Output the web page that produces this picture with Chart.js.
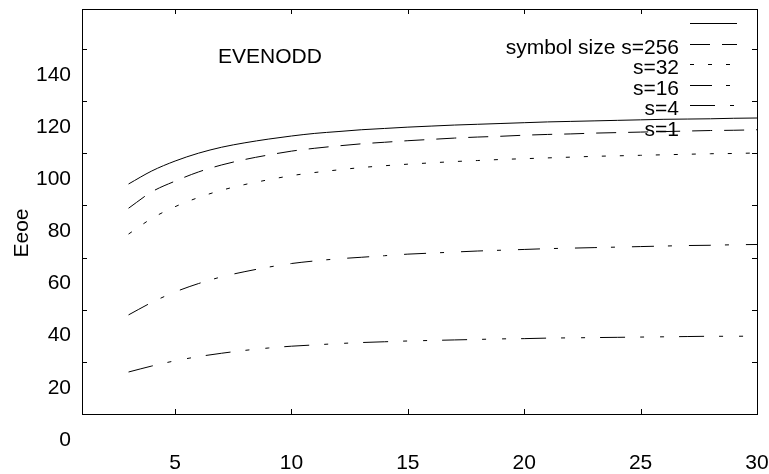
<!DOCTYPE html>
<html>
<head>
<meta charset="utf-8">
<script src="https://cdn.jsdelivr.net/npm/chart.js@4.4.1/dist/chart.umd.min.js"></script>
<style>
  html, body { margin: 0; padding: 0; background: #fff; }
  #wrap { width: 769px; height: 474px; }
</style>
</head>
<body>
<div id="wrap"><canvas id="c" width="769" height="474"></canvas></div>
<script>
// x values (3..30)
const xs = [3,4,5,6,7,8,9,10,11,12,13,14,15,16,17,18,19,20,21,22,23,24,25,26,27,28,29,30];

const s256 = [98.2,103.2,107.0,110.0,112.3,114.0,115.4,116.6,117.6,118.3,119.0,119.5,120.0,120.4,120.8,121.1,121.4,121.7,122.0,122.2,122.4,122.6,122.8,123.0,123.1,123.2,123.4,123.5];
const s32  = [88.9,95.2,99.3,102.8,105.5,107.6,109.3,110.8,111.9,112.8,113.6,114.2,114.8,115.3,115.8,116.2,116.5,116.9,117.2,117.4,117.7,117.9,118.1,118.3,118.5,118.7,118.8,119.0];
const s16  = [79.0,85.0,89.5,93.0,95.8,98.0,99.8,101.4,102.6,103.6,104.5,105.2,105.8,106.3,106.8,107.2,107.6,107.9,108.2,108.5,108.8,109.0,109.2,109.4,109.6,109.8,109.9,110.1];
const s4   = [48.0,52.8,56.8,60.0,62.6,64.6,66.3,67.7,68.7,69.5,70.1,70.7,71.3,71.7,72.1,72.5,72.8,73.1,73.4,73.6,73.8,74.0,74.2,74.4,74.6,74.7,74.9,75.0];
const s1   = [26.1,28.4,30.4,32.0,33.3,34.4,35.3,36.0,36.5,37.0,37.4,37.7,38.0,38.2,38.4,38.6,38.8,38.9,39.1,39.2,39.3,39.4,39.5,39.6,39.7,39.8,39.8,39.9];

const seriesLabels = ['symbol size s=256', 's=32', 's=16', 's=4', 's=1'];
const xTicks = [5, 10, 15, 20, 25, 30];
// tick marks sit 10 units above where their labels are printed
const yTicks = [10, 30, 50, 70, 90, 110, 130, 150];

const FONT = "'Liberation Sans', Arial, sans-serif";

const mk = (label, data, dash) => ({
    label: label,
    data: xs.map((x, i) => ({ x: x, y: data[i] })),
    borderColor: '#000',
    borderWidth: 1,
    borderDash: dash,
    pointRadius: 0,
    fill: false,
    cubicInterpolationMode: 'monotone'
});

// frame, inward ticks, title texts and legend
const decor = {
    id: 'decor',
    afterDatasetsDraw(chart) {
        const { ctx, chartArea: a, scales } = chart;
        ctx.save();
        ctx.strokeStyle = '#000';
        ctx.lineWidth = 1;
        ctx.setLineDash([]);
        ctx.strokeRect(a.left + 0.5, a.top + 0.5, a.right - a.left, a.bottom - a.top);
        ctx.beginPath();
        scales.x.ticks.forEach(t => {
            const px = Math.round(scales.x.getPixelForValue(t.value)) + 0.5;
            ctx.moveTo(px, a.bottom); ctx.lineTo(px, a.bottom - 5);
            ctx.moveTo(px, a.top); ctx.lineTo(px, a.top + 5);
        });
        scales.y.ticks.forEach(t => {
            const py = Math.round(scales.y.getPixelForValue(t.value)) + 0.5;
            ctx.moveTo(a.left, py); ctx.lineTo(a.left + 5, py);
            ctx.moveTo(a.right, py); ctx.lineTo(a.right - 5, py);
        });
        ctx.stroke();

        ctx.fillStyle = '#000';
        ctx.font = '21px ' + FONT;
        ctx.textBaseline = 'middle';
        ctx.textAlign = 'left';
        ctx.fillText('EVENODD', 218, 57);

        ctx.save();
        ctx.translate(22, 233);
        ctx.rotate(-Math.PI / 2);
        ctx.textAlign = 'center';
        ctx.fillText('Eeoe', 0, 0);
        ctx.restore();

        chart.data.datasets.forEach((ds, i) => {
            const y = 23 + i * 20.5;
            ctx.setLineDash(ds.borderDash || []);
            ctx.beginPath();
            ctx.moveTo(690, Math.round(y) + 0.5);
            ctx.lineTo(737, Math.round(y) + 0.5);
            ctx.stroke();
            ctx.setLineDash([]);
            ctx.textAlign = 'right';
            ctx.fillText(ds.label, 679, y + 25);
        });
        ctx.restore();
    }
};

new Chart(document.getElementById('c'), {
    type: 'line',
    data: {
        datasets: [
            mk(seriesLabels[0], s256, []),
            mk(seriesLabels[1], s32, [20, 12]),
            mk(seriesLabels[2], s16, [4, 14]),
            mk(seriesLabels[3], s4, [22, 14, 4, 17]),
            mk(seriesLabels[4], s1, [25, 15, 4, 16, 4, 15])
        ]
    },
    options: {
        responsive: false,
        animation: false,
        layout: { padding: { top: 9, right: 12, left: 0, bottom: 0 } },
        plugins: { legend: { display: false }, tooltip: { enabled: false } },
        scales: {
            x: {
                type: 'linear',
                min: 1,
                max: 30,
                afterBuildTicks: s => { s.ticks = xTicks.map(v => ({ value: v })); },
                afterFit: s => { s.height = 60; s.paddingLeft = 0; s.paddingRight = 0; },
                grid: { display: false, drawTicks: false },
                border: { display: false },
                ticks: {
                    autoSkip: false,
                    maxRotation: 0,
                    padding: 37,
                    color: '#000',
                    font: { family: FONT, size: 21 }
                }
            },
            y: {
                min: 10,
                max: 165.3,
                afterBuildTicks: s => { s.ticks = yTicks.map(v => ({ value: v })); },
                afterFit: s => { s.width = 82; s.paddingTop = 0; s.paddingBottom = 0; },
                grid: { display: false, drawTicks: false },
                border: { display: false },
                ticks: {
                    autoSkip: false,
                    padding: 11,
                    labelOffset: 26,
                    color: '#000',
                    font: { family: FONT, size: 21 },
                    callback: v => String(v - 10)
                }
            }
        }
    },
    plugins: [decor]
});
</script>
</body>
</html>
